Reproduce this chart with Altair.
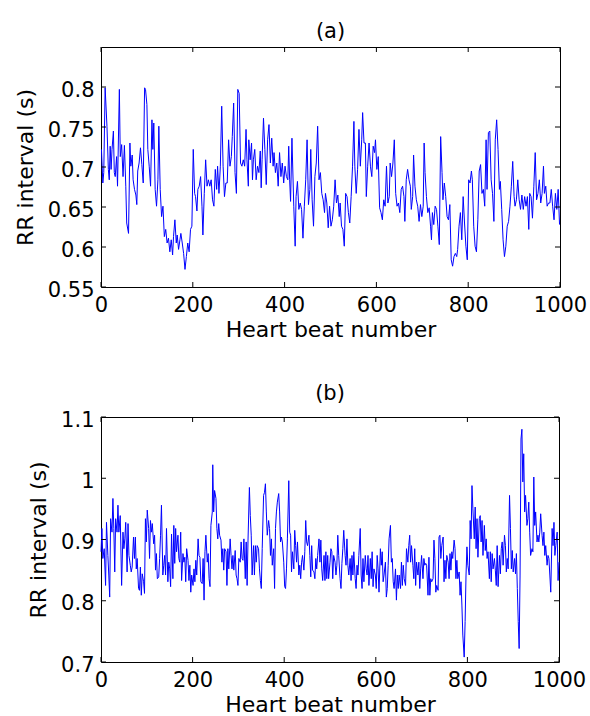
import altair as alt
import pandas as pd

X_TICKS = [0, 200, 400, 600, 800, 1000]
A_YTICKS = [0.55, 0.6, 0.65, 0.7, 0.75, 0.8]
B_YTICKS = [0.7, 0.8, 0.9, 1.0, 1.1]

# (heart beat number, RR interval in s)
PANEL_A = [
    (1,0.722),(4,0.680),(6,0.693),(9,0.799),(13,0.751),(16,0.697),(18,0.684),(20,0.726),(22,0.697),(24,0.722),
    (27,0.745),(29,0.693),(31,0.688),(34,0.713),(36,0.676),(40,0.797),(42,0.713),(45,0.728),(48,0.688),(51,0.727),
    (54,0.676),(56,0.630),(60,0.617),(63,0.730),(65,0.701),(68,0.715),(70,0.684),(73,0.672),(76,0.665),(78,0.653),
    (80,0.695),(83,0.705),(86,0.724),(89,0.703),(92,0.680),(95,0.799),(97,0.797),(100,0.778),(102,0.722),(105,0.701),
    (108,0.676),(111,0.759),(113,0.722),(115,0.755),(118,0.672),(121,0.651),(124,0.684),(126,0.751),(129,0.672),(132,0.638),
    (135,0.651),(138,0.613),(141,0.622),(144,0.605),(147,0.611),(150,0.594),(153,0.609),(156,0.590),(158,0.613),(161,0.634),
    (164,0.605),(166,0.615),(169,0.597),(172,0.609),(174,0.617),(177,0.605),(180,0.592),(183,0.572),(186,0.588),(189,0.605),
    (192,0.594),(195,0.622),(198,0.626),(201,0.722),(204,0.667),(206,0.663),(209,0.645),(211,0.672),(214,0.676),(217,0.688),
    (220,0.651),(222,0.615),(225,0.667),(228,0.709),(231,0.676),(234,0.684),(237,0.676),(240,0.684),(243,0.659),(246,0.651),
    (249,0.697),(252,0.672),(254,0.701),(257,0.667),(260,0.701),(263,0.776),(266,0.701),(269,0.663),(272,0.680),(275,0.680),
    (278,0.734),(281,0.701),(284,0.713),(286,0.738),(289,0.780),(292,0.693),(295,0.667),(298,0.797),(301,0.792),(304,0.705),
    (307,0.701),(310,0.709),(313,0.701),(316,0.747),(318,0.709),(321,0.676),
    (322,0.734),(325,0.709),(328,0.730),(330,0.684),(332,0.709),(335,0.722),(338,0.684),(341,0.701),(344,0.693),(347,0.720),
    (349,0.674),(351,0.709),(354,0.761),(357,0.722),(360,0.678),(363,0.734),(366,0.753),(369,0.705),(372,0.736),(375,0.701),
    (377,0.718),(380,0.693),(383,0.705),(386,0.676),(389,0.718),(392,0.688),(395,0.705),(398,0.680),(401,0.701),(404,0.688),
    (407,0.684),(409,0.726),(411,0.684),(413,0.657),(416,0.736),(420,0.651),(423,0.601),(425,0.663),(428,0.682),(431,0.647),
    (434,0.655),(437,0.647),(440,0.611),(443,0.651),(446,0.684),(449,0.734),(452,0.653),(455,0.672),(457,0.722),(460,0.659),
    (463,0.626),(466,0.688),(469,0.705),(472,0.751),(475,0.684),(478,0.693),(481,0.667),(484,0.659),(487,0.643),(489,0.667),
    (492,0.655),(495,0.624),(498,0.651),(501,0.626),(504,0.634),(507,0.651),(510,0.684),(513,0.655),(516,0.665),(519,0.638),
    (521,0.655),(524,0.626),(527,0.622),(530,0.601),(533,0.667),(536,0.663),(539,0.643),(542,0.630),(545,0.663),(548,0.701),
    (551,0.757),(553,0.701),(556,0.667),(559,0.697),(562,0.747),(565,0.701),(568,0.734),(570,0.768),(573,0.730),(576,0.730),
    (578,0.663),(581,0.701),(584,0.730),(587,0.701),(590,0.688),(593,0.726),(596,0.718),(598,0.734),(601,0.697),(604,0.713),
    (607,0.649),(610,0.643),(613,0.634),(616,0.659),(619,0.651),(622,0.701),(625,0.655),(628,0.663),(630,0.705),(633,0.688),
    (636,0.705),(639,0.734),(642,0.667),(645,0.651),(648,0.655),(651,0.643),(654,0.672),(657,0.676),(660,0.663),(662,0.632),
    (665,0.684),(668,0.697),(671,0.684),(674,0.676),
    (676,0.647),(679,0.663),(681,0.715),(684,0.676),(687,0.659),(690,0.651),(693,0.632),(696,0.653),(699,0.638),(702,0.651),
    (704,0.730),(706,0.693),(709,0.663),(712,0.643),(715,0.649),(718,0.626),(720,0.609),(722,0.643),(725,0.628),(728,0.651),
    (731,0.647),(734,0.626),(737,0.603),(740,0.738),(743,0.693),(745,0.659),(748,0.680),(751,0.663),(754,0.638),(757,0.634),
    (760,0.653),(763,0.584),(766,0.576),(769,0.588),(772,0.592),(775,0.588),(777,0.597),(780,0.626),(783,0.643),(786,0.609),
    (789,0.663),(792,0.630),(795,0.601),(798,0.584),(801,0.684),(804,0.680),(807,0.695),(809,0.684),(812,0.626),(815,0.601),
    (818,0.594),(821,0.634),(824,0.695),(827,0.703),(830,0.667),(833,0.672),(836,0.651),(839,0.734),(841,0.672),(844,0.743),
    (847,0.745),(850,0.684),(853,0.667),(856,0.632),(859,0.734),(862,0.759),(865,0.722),(868,0.672),(870,0.682),(873,0.647),
    (876,0.609),(879,0.588),(882,0.601),(885,0.626),(888,0.632),(891,0.651),(894,0.676),(897,0.707),(900,0.663),(902,0.651),
    (905,0.659),(908,0.684),(911,0.659),(914,0.647),(917,0.665),(920,0.647),(923,0.663),(926,0.651),(929,0.663),(932,0.622),
    (934,0.667),(937,0.663),(940,0.636),(943,0.676),(946,0.718),(949,0.659),(952,0.667),(955,0.684),(958,0.655),(961,0.667),
    (964,0.701),(966,0.667),(969,0.676),(972,0.651),(975,0.655),(978,0.655),(981,0.672),(984,0.651),(987,0.634),(990,0.667),
    (993,0.647),(996,0.672),(999,0.628),
]

# (heart beat number, RR interval in s)
PANEL_B = [
    (0,0.880),(2,0.918),(4,0.869),(7,0.885),(10,0.825),(12,0.928),(15,0.874),(17,0.842),(19,0.806),(21,0.934),
    (24,0.912),(26,0.967),(28,0.918),(30,0.847),(32,0.934),(35,0.912),(37,0.956),(39,0.912),(42,0.939),(45,0.825),
    (48,0.912),(50,0.885),(52,0.901),(54,0.928),(57,0.847),(59,0.926),(61,0.874),(64,0.858),(66,0.847),(68,0.855),
    (71,0.904),(73,0.869),(75,0.904),(77,0.852),(79,0.869),(82,0.820),(84,0.817),(86,0.855),(88,0.809),(90,0.844),
    (93,0.831),(95,0.812),(97,0.934),(99,0.896),(101,0.948),(104,0.918),(106,0.869),(108,0.931),(110,0.912),(112,0.926),
    (115,0.893),(117,0.907),(119,0.850),(121,0.877),(123,0.836),(126,0.839),(128,0.869),(130,0.907),(132,0.956),(135,0.842),
    (137,0.858),(139,0.874),(141,0.842),(143,0.918),(146,0.831),(148,0.863),(150,0.852),(152,0.823),(154,0.909),(157,0.836),
    (159,0.923),(161,0.861),(163,0.918),(165,0.880),(168,0.907),(170,0.869),(172,0.863),(174,0.912),(176,0.833),(179,0.877),
    (181,0.863),(183,0.871),(185,0.831),(187,0.885),(190,0.866),(192,0.833),(194,0.858),(196,0.814),(198,0.842),(201,0.825),
    (203,0.852),(205,0.831),(207,0.866),(209,0.842),(212,0.901),(214,0.874),(216,0.871),(218,0.831),(221,0.828),(223,0.869),
    (225,0.801),(227,0.880),(229,0.907),(232,0.863),(234,0.877),(236,0.836),(238,0.823),(240,0.923),(243,0.945),(244,1.022),
    (246,0.945),(248,0.980),(251,0.967),(253,0.918),(255,0.901),(257,0.926),(259,0.907),(262,0.899),(264,0.863),(266,0.885),
    (268,0.850),(270,0.885),(273,0.880),(275,0.825),(277,0.885),(279,0.852),(282,0.901),(284,0.874),(286,0.852),(288,0.874),
    (290,0.850),(293,0.882),(295,0.842),(297,0.836),(299,0.825),(301,0.869),(304,0.863),(306,0.896),(308,0.869),(310,0.866),
    (312,0.901),(315,0.836),(317,0.896),(319,0.825),(321,0.899),
    (324,0.985),(326,0.939),(328,0.907),(330,0.842),(333,0.890),(335,0.842),(337,0.890),(339,0.863),(341,0.890),(344,0.885),
    (346,0.852),(348,0.833),(350,0.820),(352,0.885),(355,0.972),(357,0.977),(359,0.991),(361,0.945),(363,0.907),(366,0.931),
    (368,0.918),(370,0.874),(372,0.901),(374,0.858),(377,0.885),(379,0.820),(381,0.918),(383,0.945),(385,0.961),(388,0.975),
    (390,0.945),(392,0.896),(394,0.904),(396,0.896),(399,0.863),(401,0.823),(403,0.820),(405,0.852),(407,0.901),(410,0.996),
    (412,0.912),(414,0.907),(416,0.847),(418,0.880),(421,0.852),(423,0.915),(425,0.890),(427,0.863),(429,0.896),(432,0.842),
    (434,0.858),(436,0.836),(438,0.863),(440,0.874),(443,0.850),(445,0.880),(447,0.931),(449,0.896),(451,0.890),(454,0.907),
    (456,0.874),(458,0.839),(460,0.890),(462,0.850),(465,0.847),(467,0.836),(469,0.869),(471,0.852),(473,0.874),(476,0.901),
    (478,0.863),(480,0.899),(482,0.852),(484,0.833),(487,0.874),(489,0.833),(491,0.880),(493,0.836),(495,0.874),(497,0.836),
    (500,0.863),(502,0.885),(504,0.880),(506,0.836),(508,0.874),(511,0.863),(513,0.842),(515,0.858),(517,0.907),(519,0.874),
    (522,0.836),(524,0.820),(526,0.861),(528,0.885),(530,0.915),(533,0.874),(535,0.858),(537,0.901),(539,0.858),(541,0.842),
    (544,0.869),(546,0.833),(548,0.874),(550,0.842),(552,0.880),(555,0.836),(557,0.820),(559,0.858),(561,0.842),(563,0.874),
    (566,0.918),(568,0.842),(570,0.820),(572,0.869),(574,0.831),(577,0.874),(579,0.852),(581,0.842),(583,0.874),(585,0.825),
    (588,0.869),(590,0.836),(592,0.880),(594,0.823),(596,0.852),(599,0.842),(601,0.820),(603,0.874),(605,0.852),(607,0.814),
    (610,0.885),(612,0.858),(614,0.880),(616,0.831),(618,0.842),(621,0.863),(623,0.806),(625,0.820),(627,0.858),(629,0.901),
    (632,0.923),(634,0.863),(636,0.869),(638,0.831),(640,0.820),(643,0.852),(645,0.801),(647,0.842),(649,0.820),(651,0.842),
    (654,0.820),(656,0.863),(658,0.825),(660,0.858),(662,0.836),(665,0.825),(667,0.885),
    (670,0.863),(672,0.890),(674,0.907),(676,0.863),(678,0.890),(681,0.858),(683,0.836),(685,0.885),(687,0.825),(689,0.863),
    (692,0.842),(694,0.863),(696,0.820),(698,0.852),(700,0.874),(703,0.836),(705,0.869),(707,0.858),(709,0.861),(711,0.858),
    (714,0.809),(716,0.871),(718,0.809),(720,0.836),(722,0.831),(725,0.836),(727,0.899),(729,0.869),(731,0.814),(733,0.825),
    (736,0.817),(738,0.904),(740,0.907),(742,0.869),(744,0.890),(747,0.904),(749,0.831),(751,0.866),(753,0.836),(755,0.874),
    (758,0.863),(760,0.836),(762,0.877),(764,0.850),(766,0.880),(768,0.869),(771,0.899),(773,0.885),(775,0.836),(777,0.866),
    (779,0.836),(782,0.847),(784,0.809),(786,0.831),(788,0.793),(790,0.744),(793,0.708),(795,0.766),(797,0.842),(799,0.888),
    (801,0.858),(804,0.842),(806,0.931),(808,0.901),(810,0.988),(812,0.950),(815,0.901),(817,0.953),(819,0.885),(821,0.934),
    (823,0.871),(826,0.934),(828,0.939),(830,0.896),(832,0.931),(834,0.874),(837,0.923),(839,0.882),(841,0.901),(843,0.869),
    (845,0.880),(848,0.836),(850,0.880),(852,0.831),(854,0.877),(856,0.852),(859,0.869),(861,0.850),(863,0.825),(865,0.890),
    (867,0.823),(870,0.874),(872,0.844),(874,0.885),(876,0.896),(878,0.858),(881,0.907),(883,0.890),(885,0.847),(887,0.869),
    (889,0.852),(892,0.972),(894,0.918),(896,0.852),(898,0.882),(900,0.847),(903,0.869),(905,0.844),(907,0.877),(909,0.820),
    (911,0.766),(913,0.722),(915,0.842),(917,1.064),(919,1.080),(921,0.994),(923,1.040),(925,0.945),(927,0.972),(930,0.923),
    (932,0.934),(934,0.961),(936,0.912),(938,0.874),(941,0.885),(943,0.880),(945,1.002),(947,0.923),(949,0.945),(952,0.896),
    (954,0.907),(956,0.896),(958,0.912),(960,0.942),(963,0.907),(965,0.890),(967,0.912),(969,0.874),(971,0.890),(974,0.858),
    (976,0.874),(978,0.869),(980,0.842),(982,0.814),(985,0.918),(987,0.890),(989,0.928),(991,0.874),(993,0.890),(996,0.912),
    (998,0.833),(1000,0.863),
]

FONT = "DejaVu Sans"
TICK_LEN = 5


def panel(points, title, ydomain, yticks, yfmt, w, h):
    df = pd.DataFrame(points, columns=["beat", "rr"])
    xscale = alt.Scale(domain=[0, 1000], nice=False, zero=False)
    yscale = alt.Scale(domain=ydomain, nice=False, zero=False)
    xaxis = alt.Axis(values=X_TICKS, format="d", title="Heart beat number",
                     labelFlush=False, labelOverlap=False,
                     labelPadding=7, titlePadding=4)
    yaxis = alt.Axis(values=yticks, format=yfmt, title="RR interval (s)",
                     labelOverlap=False, labelPadding=7, titlePadding=10,
                     labelOffset=3)
    line = alt.Chart(df).mark_line(color="#0000ff", strokeWidth=1).encode(
        x=alt.X("beat:Q", scale=xscale, axis=xaxis),
        y=alt.Y("rr:Q", scale=yscale, axis=yaxis),
    )
    xt = pd.DataFrame({"t": X_TICKS})
    yt = pd.DataFrame({"t": yticks})
    xb = alt.Chart(xt).mark_rule(color="black", strokeWidth=1).encode(
        x=alt.X("t:Q", scale=xscale, axis=xaxis), y=alt.value(h), y2=alt.value(h - TICK_LEN))
    xtop = alt.Chart(xt).mark_rule(color="black", strokeWidth=1).encode(
        x=alt.X("t:Q", scale=xscale, axis=xaxis), y=alt.value(0), y2=alt.value(TICK_LEN))
    yl = alt.Chart(yt).mark_rule(color="black", strokeWidth=1).encode(
        y=alt.Y("t:Q", scale=yscale, axis=yaxis), x=alt.value(0), x2=alt.value(TICK_LEN))
    yr = alt.Chart(yt).mark_rule(color="black", strokeWidth=1).encode(
        y=alt.Y("t:Q", scale=yscale, axis=yaxis), x=alt.value(w), x2=alt.value(w - TICK_LEN))
    return alt.layer(line, xb, xtop, yl, yr).properties(
        width=w, height=h, title=alt.TitleParams(title))


pa = panel(PANEL_A, "(a)", [0.55, 0.85], A_YTICKS, ".2~f", 459, 240)
pb = panel(PANEL_B, "(b)", [0.7, 1.1], B_YTICKS, ".1~f", 458, 245)

chart = (
    alt.vconcat(pa, pb, spacing=41)
    .properties(padding={"left": 13, "top": 20, "right": 0, "bottom": 0}, background="white")
    .configure_view(stroke="black", strokeWidth=1)
    .configure_axis(grid=False, ticks=False, domain=False,
                    labelFont=FONT, labelFontSize=21, labelColor="black",
                    titleFont=FONT, titleFontSize=22, titleFontWeight="normal",
                    titleColor="black")
    .configure_title(font=FONT, fontSize=21, fontWeight="normal", color="black", offset=5)
)

chart.save("out.html", embed_options={"renderer": "svg", "actions": False})
